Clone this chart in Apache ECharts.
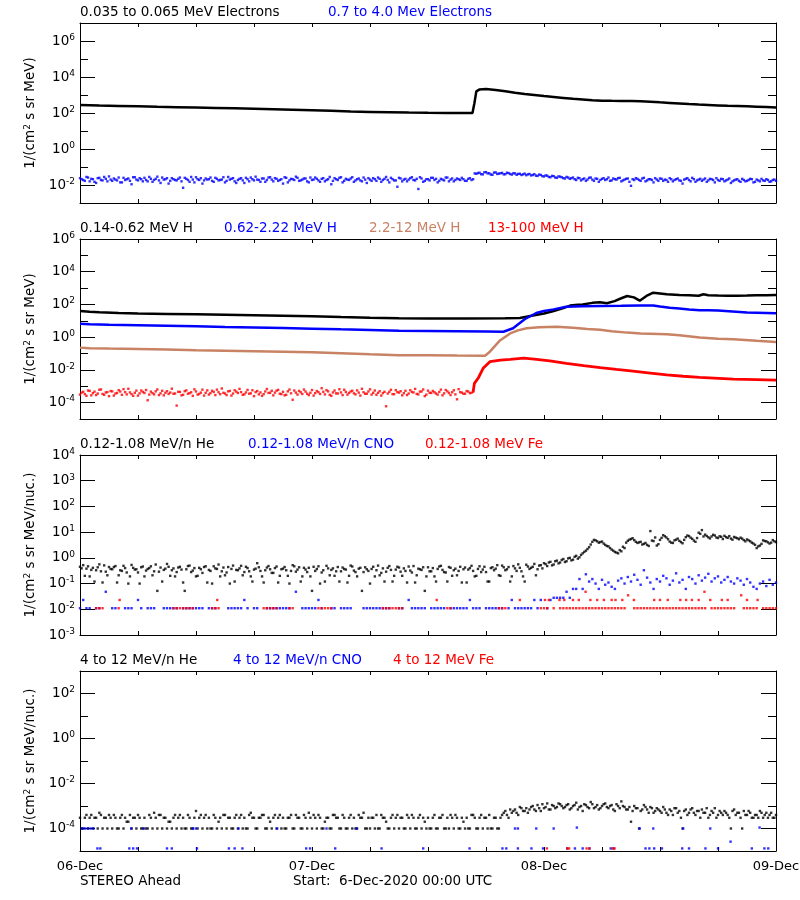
<!DOCTYPE html>
<html><head><meta charset="utf-8">
<script src="https://cdn.jsdelivr.net/npm/echarts@6/dist/echarts.min.js"></script>
<style>html,body{margin:0;padding:0;background:#fff}#chart{width:800px;height:900px}</style>
</head><body><div id="chart"></div>
<script>
const _ = null;
// ---------------- data ----------------
const dayLabels = ['06-Dec', '07-Dec', '08-Dec', '09-Dec'];
const SAMPLE_HOURS = 1 / 3;   // 20-minute samples for the scattered series
const HALF_STEP = 1 / 6;      // second interleaved set of samples, 10 minutes later

const p1Names = ['0.035 to 0.065 MeV Electrons', '0.7 to 4.0 Mev Electrons'];
const p2Names = ['0.14-0.62 MeV H', '0.62-2.22 MeV H', '2.2-12 MeV H', '13-100 MeV H'];
const p3Names = ['0.12-1.08 MeV/n He', '0.12-1.08 MeV/n CNO', '0.12-1.08 MeV Fe'];
const p4Names = ['4 to 12 MeV/n He', '4 to 12 MeV/n CNO', '4 to 12 MeV Fe'];

// [hour, value]
const elecLow = [[0,275],[2,257],[4,245],[6,234],[8,219],[10,209],[12,200],[14,191],[16,182],[18,174],[20,162],[22,151],[24,141],[26,132],[28,120],[30,115],[32,110],[34,105],[36,102],[38,100],[40,99],[40.6,100],[40.8,350],[41.0,1600],[41.3,2000],[42,2150],[43,1900],[44,1600],[45,1330],[46,1150],[47,1000],[48,870],[49,780],[50,690],[51,610],[52,560],[53,510],[54,485],[55,475],[56,470],[57,470],[58,445],[59,420],[60,390],[61,365],[62,340],[63,315],[64,295],[65,280],[66,265],[67,250],[68,243],[69,235],[70,225],[71,215],[72,205]];
// 20-minute samples (set A at :00, set B 10 minutes later)
const elecHigh = [.024,.019,.028,.016,.021,.013,.025,.018,.022,.030,
.017,.020,.026,.014,.019,.023,.011,.027,.018,.021,
.025,.016,.022,.019,.029,.013,.020,.024,.017,.021,
.018,.026,.007,.022,.015,.020,.027,.019,.012,.023,
.021,.017,.025,.018,.020,.014,.028,.022,.016,.019,
.024,.013,.021,.026,.018,.020,.015,.023,.019,.027,
.016,.022,.019,.012,.025,.018,.021,.029,.017,.020,
.023,.014,.019,.026,.018,.022,.016,.021,.011,.024,
.019,.027,.017,.020,.023,.015,.021,.018,.026,.013,
.020,.024,.017,.022,.019,.028,.014,.021,.018,.025,
.016,.022,.020,.027,.018,.006,.023,.017,.021,.025,
.019,.014,.022,.018,.026,.020,.016,.023,.019,.021,
.017,.024,.021,
.042,.048,.039,.052,.045,.037,.050,.043,.047,.040,
.046,.038,.044,.041,.036,.043,.039,.034,.040,.032,
.036,.030,.033,.027,.031,.025,.029,.024,.028,.022,
.026,.019,.024,.021,.017,.025,.020,.023,.015,.022,
.019,.026,.018,.021,.024,.016,.020,.023,.009,.019,
.022,.017,.025,.018,.021,.014,.020,.023,.017,.019,
.024,.016,.021,.018,.012,.022,.019,.025,.015,.020,
.017,.023,.018,.021,.014,.019,.022,.016,.020,.013,
.018,.021,.015,.019,.017,.022,.014,.020,.016,.018,
.021,.015,.019,.017];
const elecHighB = [.021,.017,.026,.022,.015,.024,.019,.028,.016,.020,
.023,.018,.014,.025,.021,.017,.027,.020,.024,.016,
.019,.028,.015,.022,.018,.026,.021,.012,.024,.019,
.022,.016,.025,.019,.028,.014,.021,.024,.018,.020,
.026,.015,.022,.019,.027,.017,.020,.024,.013,.022,
.018,.025,.016,.021,.029,.019,.023,.015,.026,.020,
.024,.017,.021,.027,.014,.022,.019,.025,.018,.023,
.016,.026,.020,.022,.015,.024,.019,.028,.017,.021,
.025,.014,.022,.019,.027,.018,.023,.016,.020,.024,
.017,.021,.026,.015,.022,.019,.025,.018,.008,.023,
.020,.016,.024,.019,.022,.027,.015,.021,.018,.025,
.022,.017,.020,.026,.016,.023,.019,.021,.025,.017,
.022,.019,.044,
.046,.040,.051,.044,.038,.049,.041,.045,.039,.048,
.041,.045,.037,.042,.039,.035,.041,.036,.033,.038,
.031,.034,.028,.032,.026,.030,.027,.023,.026,.024,
.021,.025,.018,.023,.020,.026,.017,.022,.019,.024,
.021,.017,.023,.020,.025,.018,.022,.015,.021,.024,
.019,.023,.016,.021,.019,.024,.017,.022,.020,.015,
.021,.019,.023,.017,.020,.024,.016,.021,.018,.022,
.020,.015,.022,.019,.024,.017,.021,.018,.023,.016,
.020,.017,.022,.016,.019,.021,.015,.018,.022,.017,
.019,.016,.020];

const hLow = [[0,40],[1,36],[2,33],[4,30],[6,28],[9,26.5],[12,25],[15,23.5],[18,22],[21,20.5],[24,19],[27,17],[30,15.5],[33,14.5],[36,14],[40,14],[44,14.2],[45.5,15],[47,22],[48,28],[49,40],[50,60],[50.7,85],[51.5,95],[52,100],[53,125],[53.8,135],[54.5,118],[55.3,160],[56,240],[56.6,330],[57.3,270],[57.9,170],[58.6,330],[59.3,520],[60,470],[60.7,420],[62,380],[63,360],[64,340],[64.5,420],[65,370],[66,350],[67,340],[68,345],[69,350],[70,360],[71,370],[72,380]];
const hMid = [[0,6.6],[1,6.2],[3,5.8],[6,5.4],[9,5],[12,4.6],[15,4.2],[18,3.9],[21,3.6],[24,3.3],[27,3],[30,2.75],[33,2.5],[36,2.4],[39,2.3],[42,2.2],[43.8,2.15],[44.8,3.5],[46,12.5],[47.2,30],[48,40],[49,50],[50.3,72],[52,78],[53.8,80],[56,82],[58,85],[59.3,87],[60,75],[61,62],[62,56],[63,50],[64.1,45],[65,44],[66,42],[67.5,37],[69,32],[72,29]];
const hHigh = [[0,.23],[1,.21],[3,.2],[6,.19],[9,.175],[12,.16],[15,.15],[18,.14],[21,.13],[24,.12],[27,.105],[30,.09],[33,.08],[36,.078],[39,.075],[41.9,.074],[42.4,.13],[43.4,.6],[44.5,1.7],[45.3,2.6],[46.2,3.5],[47.5,4.1],[49.3,4.4],[51,3.8],[52.5,3.2],[53.8,2.8],[55,2.3],[56.6,1.9],[58,1.7],[60.7,1.5],[62,1.3],[64.1,.95],[66,.8],[67.6,.74],[70,.6],[72,.51]];
// 20-minute samples before the onset (set A and set B)
const hTopQuiet = [3.1e-4,4.6e-4,2.6e-4,5.2e-4,3.8e-4,2.9e-4,6.1e-4,3.4e-4,4.2e-4,2.5e-4,
4.9e-4,3.6e-4,5.8e-4,3.0e-4,4.4e-4,7.0e-4,3.3e-4,4.0e-4,2.7e-4,5.5e-4,
3.9e-4,1.4e-4,4.7e-4,3.2e-4,6.4e-4,3.7e-4,2.8e-4,5.0e-4,4.1e-4,3.5e-4,
6.6e-5,4.5e-4,3.0e-4,5.6e-4,3.8e-4,2.6e-4,4.8e-4,3.4e-4,6.2e-4,4.0e-4,
3.1e-4,5.3e-4,2.9e-4,4.3e-4,7.3e-4,3.6e-4,4.9e-4,2.7e-4,5.7e-4,3.9e-4,
4.4e-4,3.2e-4,6.0e-4,3.7e-4,2.5e-4,5.1e-4,4.2e-4,3.3e-4,6.8e-4,4.0e-4,
2.8e-4,5.4e-4,3.5e-4,4.6e-4,3.0e-4,6.3e-4,1.5e-4,4.1e-4,5.2e-4,3.4e-4,
4.7e-4,2.9e-4,5.9e-4,3.8e-4,4.4e-4,7.6e-4,3.2e-4,4.9e-4,2.6e-4,5.5e-4,
3.6e-4,4.2e-4,6.1e-4,3.1e-4,4.8e-4,3.7e-4,5.6e-4,2.7e-4,4.3e-4,3.5e-4,
6.5e-4,4.0e-4,3.0e-4,5.0e-4,3.8e-4,6.0e-5,4.6e-4,3.3e-4,5.8e-4,4.1e-4,
2.8e-4,5.3e-4,3.6e-4,4.5e-4,6.9e-4,3.2e-4,4.8e-4,2.5e-4,5.4e-4,3.9e-4,
4.3e-4,3.1e-4,6.2e-4,3.7e-4,4.9e-4,2.9e-4,5.7e-4,1.6e-4,4.4e-4,3.5e-4,
5.1e-4,3.8e-4,4.6e-4];
const hTopQuietB = [4.1e-4,3.3e-4,5.5e-4,2.8e-4,4.7e-4,3.6e-4,6.4e-4,3.0e-4,4.4e-4,5.1e-4,
2.7e-4,3.9e-4,4.8e-4,6.7e-4,3.2e-4,4.2e-4,2.6e-4,5.4e-4,3.7e-4,4.5e-4,
5.9e-4,3.1e-4,3.8e-4,4.9e-4,2.9e-4,5.3e-4,4.0e-4,3.4e-4,7.1e-4,3.6e-4,
4.6e-4,2.8e-4,5.0e-4,3.5e-4,4.3e-4,6.5e-4,3.1e-4,4.1e-4,2.7e-4,5.6e-4,
3.8e-4,4.5e-4,6.2e-4,3.3e-4,4.0e-4,2.9e-4,5.2e-4,3.6e-4,4.7e-4,6.9e-4,
3.0e-4,4.2e-4,3.5e-4,5.7e-4,4.4e-4,3.2e-4,2.6e-4,4.8e-4,3.9e-4,5.3e-4,
4.1e-4,6.0e-4,3.3e-4,2.8e-4,4.9e-4,3.7e-4,5.5e-4,3.1e-4,4.3e-4,6.3e-4,
3.5e-4,4.0e-4,2.7e-4,5.1e-4,3.4e-4,4.6e-4,5.8e-4,3.0e-4,4.2e-4,3.7e-4,
6.6e-4,2.9e-4,4.5e-4,3.9e-4,5.3e-4,3.2e-4,4.1e-4,7.0e-4,3.5e-4,4.8e-4,
3.1e-4,5.5e-4,4.0e-4,2.7e-4,4.6e-4,3.6e-4,6.1e-4,3.3e-4,4.4e-4,5.0e-4,
3.8e-4,2.9e-4,5.7e-4,4.2e-4,3.4e-4,4.7e-4,6.4e-4,3.1e-4,4.0e-4,5.2e-4,
3.6e-4,4.5e-4,2.8e-4,5.9e-4,3.9e-4,4.3e-4,3.2e-4,6.7e-4,4.1e-4,3.5e-4,
4.8e-4,4.0e-4];
const hTopEvent = [[40.67,4.6e-4],[40.8,1.5e-3],[41.2,3.2e-3],[41.7,1.25e-2],[42.4,3.2e-2],[43.5,4e-2],[44.5,4.4e-2],[45.9,5.2e-2],[47,4.6e-2],[48.6,3.6e-2],[50.3,2.5e-2],[52.1,1.8e-2],[53.8,1.36e-2],[55.5,1.07e-2],[57.2,8.5e-3],[59,6.4e-3],[60.7,4.9e-3],[62.4,4.1e-3],[64.1,3.5e-3],[67.6,2.75e-3],[70,2.55e-3],[72,2.4e-3]];

// 20-minute samples (set A and set B)
const heLowHe = [.45,.52,.38,.19,.41,.33,.56,.11,.29,.44,
.36,.48,.21,.31,.40,.10,.53,.35,.27,.43,
.19,.37,.47,.30,.052,.42,.34,.58,.20,.39,
.28,.45,.11,.36,.50,.32,.19,.41,.26,.47,
.34,.10,.39,.55,.30,.21,.44,.37,.12,.33,
.49,.28,.40,.19,.35,.62,.31,.11,.42,.36,
.26,.46,.20,.38,.33,.10,.52,.29,.43,.19,
.35,.41,.052,.31,.47,.27,.12,.39,.34,.20,
.44,.30,.37,.11,.50,.32,.19,.41,.28,.36,
.10,.45,.33,.21,.39,.29,.48,.12,.35,.42,
.20,.31,.46,.27,.11,.38,.34,.052,.43,.30,
.19,.37,.49,.28,.12,.41,.33,.21,.45,.36,
.11,.40,.31,.20,.47,.35,.28,.12,.43,.38,
.21,.50,.33,.44,.19,.39,.56,.30,.12,.46,
.41,.58,.36,.52,
.62,.48,.70,.55,.78,.66,.90,.74,1.0,.85,1.2,1.05,1.5,1.9,2.6,4.2,
4.8,3.9,4.3,3.2,2.8,2.1,1.7,1.5,1.8,2.4,
4.6,5.4,4.9,3.8,4.2,3.5,3.2,11,4.5,3.0,
5.0,7.6,6.2,4.3,3.8,5.1,4.6,3.7,6.4,7.0,
5.5,4.2,9.5,12,8.0,6.3,6.8,7.4,5.9,6.6,
7.2,6.0,5.6,6.5,5.8,6.1,4.9,5.2,4.4,3.6,
2.4,3.0,4.8,4.4,3.6,4.9,4.1];
const heLowHeB = [.39,.20,.47,.34,.12,.43,.30,.51,.21,.37,
.44,.11,.33,.49,.27,.19,.41,.36,.10,.46,
.32,.40,.21,.55,.29,.12,.38,.45,.33,.19,
.42,.35,.052,.48,.28,.40,.20,.36,.44,.11,
.31,.47,.37,.19,.42,.27,.10,.50,.34,.39,
.21,.45,.30,.12,.38,.43,.19,.33,.48,.26,
.40,.11,.36,.44,.20,.31,.47,.35,.12,.41,
.28,.19,.45,.37,.10,.33,.49,.21,.39,.30,
.12,.42,.35,.20,.46,.28,.38,.052,.43,.31,
.37,.19,.50,.26,.12,.41,.34,.20,.45,.29,
.39,.11,.32,.48,.21,.36,.43,.19,.30,.40,
.12,.46,.34,.27,.44,.20,.38,.31,.11,.42,
.35,.49,.19,.37,.28,.45,.12,.40,.33,.52,
.20,.43,.36,.12,.48,.31,.41,.19,.54,.37,
.45,.21,.50,.39,
.57,.66,.51,.74,.61,.83,.69,.95,.80,1.1,.93,1.3,1.7,2.2,3.3,5.0,
4.4,4.1,3.6,2.9,2.4,1.9,1.6,2.0,2.7,3.9,
5.1,5.8,4.2,4.0,3.3,3.8,2.9,4.7,6.2,3.4,
6.0,6.9,5.3,3.9,4.8,5.6,4.1,5.0,7.4,6.1,
4.7,5.9,8.6,6.8,7.1,5.7,7.9,6.2,6.9,5.4,
6.4,7.0,5.1,6.1,5.3,5.6,4.4,4.8,3.9,3.2,
2.8,3.5,4.5,4.0,3.9,4.4];
const heLowCno = [.011,.023,.011,.011,_,.011,.011,_,.048,_,
.011,.011,_,_,.011,.011,.011,_,.023,.011,
_,.011,.011,.011,_,_,.011,.011,.011,.011,
.011,_,.011,.011,.011,.011,.011,.011,.011,_,
.011,.011,.011,_,_,_,.011,.011,.011,.011,
.011,.023,.011,_,.011,.011,_,_,.011,.011,
.011,.011,.011,.011,.011,.011,_,.048,_,.011,
.011,.011,.011,.011,.023,.011,_,_,.011,.011,
_,.011,.011,.011,.011,_,_,_,.011,.011,
.011,.011,.011,.011,.011,.011,.011,_,_,.011,
.011,_,.023,.011,.011,.011,.011,.011,_,.011,
.011,.011,.011,.011,_,.011,.011,.011,.011,.011,
.011,.023,.011,.011,.011,_,.011,.011,.011,.011,
.011,.011,_,.011,.023,.011,.011,.011,.011,.011,
.011,.023,.011,.023,_,.011,.023,.028,.028,.028,
.028,.048,.028,.062,.062,.15,.062,.23,.12,.15,
.10,.062,.14,.09,.11,.075,.062,.13,.16,.10,
.18,.12,.22,.14,.09,.33,.17,.11,.062,.15,
.12,.20,.16,.09,.13,.25,.11,.14,.062,.18,
.15,.10,.21,.13,.17,.24,.12,.16,.19,.11,
.14,.18,.12,.10,.16,.13,.09,.15,.11,.075,
.062,.10,.12,.08,.14,.09,.11];
const heLowFe = [_,_,_,_,_,.011,.011,.011,_,_,
_,_,.011,_,_,_,_,_,_,_,
_,_,_,_,_,_,_,_,_,.011,
.011,.011,.011,.011,.011,.011,_,_,_,_,
_,.011,.011,.011,_,_,_,_,_,_,
_,_,_,_,_,_,_,.011,.011,.011,
.011,.011,_,_,_,.011,.011,_,_,_,
_,_,_,_,.011,.011,.011,.011,.011,_,
_,_,_,_,_,_,_,_,_,_,
_,_,_,_,.011,.011,.011,.011,.011,.011,
.011,_,_,_,_,_,_,_,_,_,
_,_,_,_,.011,.011,_,_,_,_,
_,_,_,_,_,_,_,_,_,_,
.011,.011,.011,_,_,_,_,_,_,_,
_,_,_,.011,.011,.011,_,.011,_,.011,
.011,.011,.011,.011,.011,.011,.011,.011,.011,.011,
.011,.011,.011,.011,.011,.011,.011,.011,.011,.011,
_,_,.011,.011,.011,.011,.011,.011,.011,.011,
.011,.011,.011,.011,.011,.011,.011,.011,.011,.011,
.011,.011,.011,.011,.011,_,.011,.011,.011,.011,
.011,.011,.011,.011,_,_,.011,.011,.011,.011,
.011,_,.011,.011,.011,.011,.011];
const heLowFeExtra = [[4.1,.023],[14.2,.023],[36.9,.023],[45.5,.023],[48.1,.023],[48.5,.023],[49.6,.023],[50.1,.023],[51,.023],[51.6,.023],[52.3,.048],[52.8,.023],[53.5,.023],[54.2,.023],[55,.023],[55.4,.023],[56.1,.023],[56.7,.035],[57.3,.023],[59.4,.023],[60,.023],[60.8,.023],[62.1,.023],[62.7,.023],[63.3,.023],[64,.023],[64.6,.048],[65.2,.023],[66.4,.023],[67,.023],[68.4,.035],[69,.023],[70.1,.023]];

// 20-minute samples (set A and set B)
const heHighHe = [3e-4,1e-4,4e-4,3e-4,1e-4,3e-4,5e-4,1e-4,3e-4,4e-4,
1e-4,3e-4,1e-4,4e-4,3e-4,2e-4,1e-4,3e-4,4e-4,1e-4,
3e-4,1e-4,3e-4,5e-4,1e-4,4e-4,3e-4,1e-4,2e-4,3e-4,
1e-4,4e-4,3e-4,1e-4,3e-4,1e-4,6e-4,3e-4,1e-4,4e-4,
3e-4,1e-4,3e-4,2e-4,1e-4,4e-4,3e-4,1e-4,3e-4,1e-4,
4e-4,3e-4,1e-4,5e-4,3e-4,1e-4,3e-4,4e-4,1e-4,2e-4,
3e-4,1e-4,4e-4,3e-4,1e-4,3e-4,1e-4,4e-4,3e-4,1e-4,
3e-4,5e-4,1e-4,3e-4,4e-4,1e-4,2e-4,3e-4,1e-4,4e-4,
3e-4,1e-4,3e-4,1e-4,4e-4,3e-4,1e-4,3e-4,5e-4,1e-4,
1e-4,3e-4,4e-4,1e-4,3e-4,2e-4,1e-4,4e-4,3e-4,1e-4,
3e-4,1e-4,3e-4,4e-4,1e-4,3e-4,1e-4,2e-4,3e-4,1e-4,
4e-4,1e-4,3e-4,1e-4,3e-4,4e-4,1e-4,3e-4,1e-4,2e-4,
3e-4,1e-4,4e-4,1e-4,3e-4,1e-4,3e-4,4e-4,1e-4,3e-4,
1e-4,4e-4,6e-4,3e-4,5e-4,7e-4,4e-4,8e-4,6e-4,5e-4,
9e-4,7e-4,1.1e-3,6e-4,8e-4,1.3e-3,7e-4,1e-3,9e-4,1.2e-3,
8e-4,1.1e-3,7e-4,1e-3,1.4e-3,9e-4,6e-4,1.1e-3,8e-4,1.2e-3,
9e-4,7e-4,1e-3,1.3e-3,8e-4,1.1e-3,6e-4,1e-3,1.6e-3,9e-4,
7e-4,2e-4,1e-3,8e-4,6e-4,1.1e-3,7e-4,9e-4,5e-4,8e-4,
6e-4,9e-4,5e-4,7e-4,4e-4,8e-4,6e-4,1e-4,7e-4,5e-4,
8e-4,4e-4,6e-4,7e-4,5e-4,3e-4,6e-4,8e-4,4e-4,5e-4,
6e-4,4e-4,1e-4,7e-4,5e-4,3e-4,6e-4,4e-4,5e-4,3e-4,
4e-4,6e-4,3e-4,5e-4,4e-4,3e-4,4e-4];
const heHighHeB = [1e-4,3e-4,1e-4,4e-4,3e-4,1e-4,4e-4,3e-4,1e-4,3e-4,
4e-4,1e-4,3e-4,1e-4,2e-4,4e-4,3e-4,1e-4,3e-4,1e-4,
1e-4,4e-4,1e-4,3e-4,4e-4,1e-4,3e-4,2e-4,1e-4,4e-4,
3e-4,1e-4,1e-4,4e-4,1e-4,3e-4,1e-4,4e-4,3e-4,1e-4,
1e-4,4e-4,1e-4,3e-4,4e-4,1e-4,3e-4,1e-4,4e-4,3e-4,
1e-4,1e-4,4e-4,3e-4,1e-4,3e-4,4e-4,1e-4,3e-4,1e-4,
4e-4,3e-4,1e-4,1e-4,3e-4,4e-4,1e-4,3e-4,1e-4,4e-4,
1e-4,3e-4,4e-4,1e-4,3e-4,1e-4,3e-4,1e-4,4e-4,3e-4,
1e-4,4e-4,1e-4,3e-4,1e-4,1e-4,4e-4,3e-4,1e-4,3e-4,
3e-4,1e-4,1e-4,4e-4,3e-4,1e-4,3e-4,1e-4,4e-4,3e-4,
1e-4,4e-4,1e-4,3e-4,1e-4,4e-4,3e-4,1e-4,1e-4,3e-4,
1e-4,3e-4,4e-4,1e-4,1e-4,3e-4,4e-4,1e-4,3e-4,1e-4,
1e-4,4e-4,3e-4,1e-4,4e-4,3e-4,1e-4,1e-4,3e-4,1e-4,
3e-4,5e-4,4e-4,7e-4,6e-4,5e-4,9e-4,6e-4,8e-4,7e-4,
1e-3,6e-4,8e-4,1.2e-3,9e-4,7e-4,1.1e-3,8e-4,1.3e-3,1e-3,
9e-4,1.2e-3,8e-4,1.1e-3,7e-4,1e-3,1.2e-3,9e-4,1.5e-3,8e-4,
1.1e-3,8e-4,1.2e-3,9e-4,1e-3,7e-4,1.2e-3,8e-4,1e-3,7e-4,
9e-4,6e-4,8e-4,1e-4,7e-4,9e-4,5e-4,8e-4,6e-4,7e-4,
5e-4,7e-4,4e-4,6e-4,8e-4,5e-4,3e-4,6e-4,4e-4,7e-4,
5e-4,6e-4,3e-4,5e-4,8e-4,4e-4,5e-4,3e-4,6e-4,4e-4,
5e-4,3e-4,6e-4,4e-4,5e-4,1e-4,4e-4,6e-4,3e-4,4e-4,
3e-4,5e-4,4e-4,3e-4,5e-4,3e-4];
const heHighCno = [[0.2,1e-4],[0.5,1e-4],[0.8,1e-4],[1.1,1e-4],[1.4,1e-4],[5.3,1e-4],[6.6,1e-4],[11.7,1e-4],[12.0,1e-4],[16.4,1e-4],[20.4,1e-4],[25.5,1e-4],[28.6,1e-4],[45.0,1e-4],[45.3,1e-4],[47.2,1e-4],[49.0,1e-4],[51.4,1.1e-4],[57.9,1e-4],[59.3,1e-4],[62.4,1e-4],[65.2,1e-4],[70.3,1.1e-4],
[1.8,1.3e-5],[2.1,1.3e-5],[5.1,1.3e-5],[5.5,1.3e-5],[5.9,1.3e-5],[9.0,1.3e-5],[9.5,1.3e-5],[12.1,1.3e-5],[15.4,1.3e-5],[16.0,1.3e-5],[16.8,1.3e-5],[23.4,1.3e-5],[23.8,1.3e-5],[26.4,1.3e-5],[31.2,1.3e-5],[35.5,1.3e-5],[40.3,1.3e-5],[43.7,1.3e-5],[44.1,1.3e-5],[45.3,1.3e-5],[46.7,1.3e-5],[47.9,1.3e-5],[50.4,1.3e-5],[51.2,1.3e-5],[52.0,1.3e-5],[52.7,1.3e-5],[54.9,1.3e-5],[55.2,1.3e-5],[58.5,1.3e-5],[58.9,1.3e-5],[59.4,1.3e-5],[60.2,1.3e-5],[62.3,1.3e-5],[63.0,1.3e-5],[64.7,1.3e-5],[66.0,1.3e-5],[67.3,2.6e-5],[69.5,1.3e-5],[70.8,1.3e-5],[71.2,1.3e-5]];
const heHighFe = [[48.3,1.3e-5],[50.4,1.3e-5],[50.6,1.3e-5],[52.4,1.3e-5],[52.7,1.3e-5],[55.1,1.3e-5],[55.3,1.3e-5]];

// ---------------- helpers ----------------
const FONT = 'DejaVu Sans';
const BLACK = '#000000', BLUE = '#0000ff', BROWN = '#c88264', RED = '#ff0000';
function pairsLog(arr) { return arr.map(p => [p[0], Math.log10(p[1])]); }
function sampledLog(arr, offset) {
  const out = [];
  const o = offset || 0;
  arr.forEach((v, i) => { if (v != null) out.push([i * SAMPLE_HOURS + o, Math.log10(v)]); });
  return out;
}
function twoSets(a, b) { return sampledLog(a, 0).concat(sampledLog(b, HALF_STEP)); }

const panels = [
  {top: 23, min: -3, max: 7, major: [-2, 0, 2, 4, 6], minor: true, name: '1/(cm{sup|2} s sr MeV)'},
  {top: 239, min: -5, max: 6, major: [-4, -2, 0, 2, 4, 6], minor: true, name: '1/(cm{sup|2} s sr MeV)'},
  {top: 455, min: -3, max: 4, major: [-3, -2, -1, 0, 1, 2, 3, 4], minor: false, name: '1/(cm{sup|2} s sr MeV/nuc.)'},
  {top: 671, min: -5, max: 3, major: [-4, -2, 0, 2], minor: true, name: '1/(cm{sup|2} s sr MeV/nuc.)'}
];
const supRich = {sup: {fontSize: 9, fontFamily: FONT, color: BLACK, padding: [0, 0, 7, 0]}};

const grid = [], xAxis = [], yAxis = [];
panels.forEach((p, k) => {
  grid.push({left: 80, width: 696, top: p.top, height: 180, containLabel: false, outerBoundsMode: 'none'});
  const xBase = {
    type: 'value', gridIndex: k, min: 0, max: 72, interval: 6,
    splitLine: {show: false},
    axisLine: {onZero: false, lineStyle: {color: BLACK, width: 1}},
    axisTick: {inside: true, length: 4, lineStyle: {color: BLACK}}
  };
  xAxis.push(Object.assign({}, xBase, {
    position: 'bottom',
    axisLabel: k === 3 ? {
      show: true, margin: 9, color: BLACK, fontSize: 13, fontFamily: FONT,
      showMinLabel: true, showMaxLabel: true,
      formatter: v => (v % 24 === 0 ? dayLabels[v / 24] : '')
    } : {show: false}
  }));
  xAxis.push(Object.assign({}, xBase, {position: 'top', axisLabel: {show: false}}));

  ['left', 'right'].forEach(pos => {
    yAxis.push({
      type: 'value', gridIndex: k, position: pos, min: p.min, max: p.max, interval: 1,
      splitLine: {show: false},
      axisLine: {onZero: false, lineStyle: {color: BLACK, width: 1}},
      axisTick: {inside: true, length: 15, customValues: p.major, lineStyle: {color: BLACK}},
      axisLabel: pos === 'left' ? {
        show: true, customValues: p.major, margin: 5, color: BLACK, fontSize: 13.5, fontFamily: FONT,
        showMinLabel: true, showMaxLabel: true,
        formatter: v => '10{sup|' + v + '}', rich: supRich
      } : {show: false},
      name: pos === 'left' ? p.name : '',
      nameLocation: 'middle', nameGap: 32,
      nameTextStyle: {fontSize: 13.5, fontFamily: FONT, color: BLACK, rich: supRich}
    });
    yAxis.push({
      type: 'value', gridIndex: k, position: pos, min: p.min, max: p.max, interval: 1,
      splitLine: {show: false},
      axisLine: {show: false, onZero: false},
      axisTick: {show: p.minor, inside: true, length: 8, lineStyle: {color: BLACK}},
      axisLabel: {show: false}
    });
  });
});

function ax(k) { return {xAxisIndex: 2 * k, yAxisIndex: 4 * k}; }
function lineS(k, name, color, data, w) {
  return Object.assign({type: 'line', name, data, showSymbol: false, symbol: 'none',
    lineStyle: {color, width: w || 2.5}, itemStyle: {color}, animation: false}, ax(k));
}
function dotS(k, name, color, data, size) {
  return Object.assign({type: 'scatter', name, data, symbol: 'rect', symbolSize: size || 2.4,
    itemStyle: {color}, animation: false}, ax(k));
}

const series = [
  lineS(0, p1Names[0], BLACK, pairsLog(elecLow), 2.5),
  dotS(0, p1Names[1], BLUE, twoSets(elecHigh, elecHighB)),
  lineS(1, p2Names[0], BLACK, pairsLog(hLow), 2.5),
  lineS(1, p2Names[1], BLUE, pairsLog(hMid), 2.5),
  lineS(1, p2Names[2], BROWN, pairsLog(hHigh), 2.5),
  dotS(1, p2Names[3], RED, twoSets(hTopQuiet, hTopQuietB)),
  lineS(1, p2Names[3], RED, pairsLog(hTopEvent), 2.8),
  dotS(2, p3Names[0], BLACK, twoSets(heLowHe, heLowHeB)),
  dotS(2, p3Names[1], BLUE, sampledLog(heLowCno)),
  dotS(2, p3Names[2], RED, sampledLog(heLowFe).concat(pairsLog(heLowFeExtra))),
  dotS(3, p4Names[0], BLACK, twoSets(heHighHe, heHighHeB)),
  dotS(3, p4Names[1], BLUE, pairsLog(heHighCno)),
  dotS(3, p4Names[2], RED, pairsLog(heHighFe))
];

// legend labels, one per item, placed like the panel captions
const legendLayout = [
  {name: p1Names[0], color: BLACK, left: 80, top: 5},
  {name: p1Names[1], color: BLUE, left: 328, top: 5},
  {name: p2Names[0], color: BLACK, left: 80, top: 221},
  {name: p2Names[1], color: BLUE, left: 224, top: 221},
  {name: p2Names[2], color: BROWN, left: 369, top: 221},
  {name: p2Names[3], color: RED, left: 488, top: 221},
  {name: p3Names[0], color: BLACK, left: 80, top: 437},
  {name: p3Names[1], color: BLUE, left: 248, top: 437},
  {name: p3Names[2], color: RED, left: 425, top: 437},
  {name: p4Names[0], color: BLACK, left: 80, top: 653},
  {name: p4Names[1], color: BLUE, left: 233, top: 653},
  {name: p4Names[2], color: RED, left: 393, top: 653}
];
const legend = legendLayout.map(it => ({
  left: it.left - 5, top: it.top, padding: 0, itemWidth: 0, itemHeight: 0, itemGap: 0,
  selectedMode: false, icon: 'rect',
  textStyle: {fontSize: 13.5, fontFamily: FONT, color: it.color},
  data: [{name: it.name, textStyle: {color: it.color}}]
}));

const chart = echarts.init(document.getElementById('chart'), null, {renderer: 'canvas'});
chart.setOption({
  animation: false,
  backgroundColor: '#ffffff',
  grid, xAxis, yAxis, legend, series,
  graphic: [
    {type: 'text', left: 80, top: 874, style: {text: 'STEREO Ahead', font: '13.5px "DejaVu Sans"', fill: BLACK}},
    {type: 'text', left: 293, top: 874, style: {text: 'Start:  6-Dec-2020 00:00 UTC', font: '13.5px "DejaVu Sans"', fill: BLACK}}
  ]
});
</script>
</body></html>
